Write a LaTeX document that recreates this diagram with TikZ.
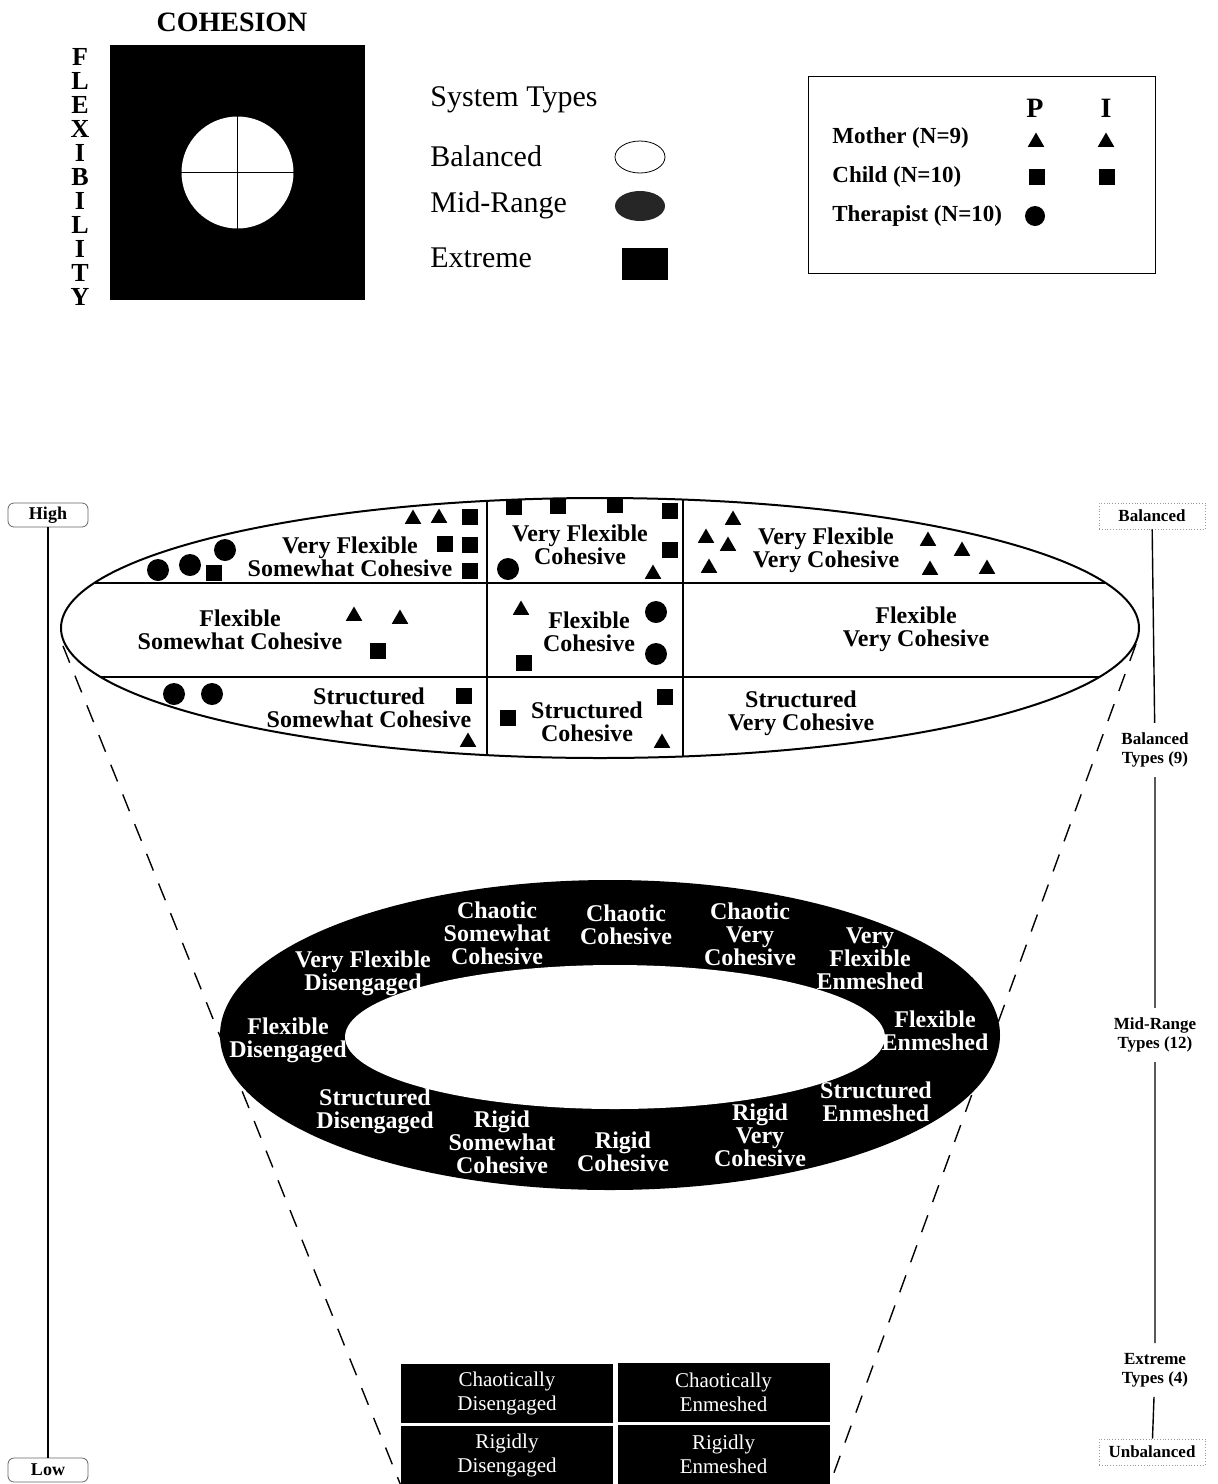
\documentclass[tikz,border=0pt]{standalone}
\usepackage{fontspec}
\setmainfont{Liberation Serif}
\usetikzlibrary{shapes.geometric}

\tikzset{
  hd/.style={font=\bfseries\fontsize{14}{14}\selectfont, inner sep=0pt},
  vlet/.style={font=\bfseries\fontsize{13}{13}\selectfont, inner sep=0pt, text height=8.5pt, text depth=0pt},
  leg/.style={font=\fontsize{15}{15}\selectfont, anchor=west, inner sep=0pt},
  key/.style={font=\bfseries\fontsize{11.5}{12}\selectfont, anchor=west, inner sep=0pt},
  cell/.style={font=\bfseries\fontsize{12}{11.5}\selectfont, align=center, inner sep=0pt},
  ring/.style={cell, text=white},
  xbox/.style={fill=black, text=white, minimum width=106pt, minimum height=29.5pt,
    align=center, inner sep=0pt, font=\fontsize{10.5}{12}\selectfont},
  axbox/.style={draw=black!60, rounded corners=3pt, minimum width=40pt, minimum height=12pt,
    font=\bfseries\fontsize{9}{9}\selectfont, inner sep=1pt},
  rbox/.style={draw=black!40, densely dotted, minimum width=53pt, minimum height=13pt,
    font=\bfseries\fontsize{8.5}{9}\selectfont, inner sep=1pt},
  rlbl/.style={font=\bfseries\fontsize{8.5}{9.5}\selectfont, align=center, inner sep=1pt, outer sep=4pt},
  tri/.style={regular polygon, regular polygon sides=3, fill=black, inner sep=0pt, minimum size=9.5pt},
  sqr/.style={rectangle, fill=black, inner sep=0pt, minimum size=8pt},
  dot/.style={circle, fill=black, inner sep=0pt, minimum size=11pt},
}

\begin{document}
\begin{tikzpicture}[x=0.5pt, y=-0.5pt]
\useasboundingbox (0,0) rectangle (1218,1484);

% cohesion / flexibility inset
\node[hd] (coh) at (232,22) {COHESION};
\node[fill=black, minimum width=127.5pt, minimum height=127.5pt, inner sep=0pt] (sq) at (237.5,172.5) {};
\node[circle, fill=white, minimum size=56pt, inner sep=0pt] (ctr) at (sq) {};
\draw[thick] (ctr.north) -- (ctr.south);
\draw[thick] (ctr.west) -- (ctr.east);
\foreach \ch [count=\i] in {F,L,E,X,I,B,I,L,I,T,Y}
  \node[vlet] (fx\i) at (80,{57+24*(\i-1)}) {\ch};

% system types
\node[leg] (st) at (430,100) {System Types};
\node[leg] (bl) at (430,156) {Balanced};
\node[leg] (mr) at (430,205) {Mid-Range};
\node[leg] (ex) at (430,258) {Extreme};
\node[draw, ellipse, minimum width=25pt, minimum height=16pt, inner sep=0pt] (blsym) at (640,157) {};
\node[ellipse, fill=black!85, minimum width=25pt, minimum height=15pt, inner sep=0pt] (mrsym) at (640,206) {};
\node[fill=black, minimum width=23pt, minimum height=16pt, inner sep=0pt] (exsym) at (645,264) {};

% raters
\node[draw, minimum width=173.5pt, minimum height=98.5pt] (keybox) at (981.5,174.5) {};
\node[hd] (colp) at (1035,108) {P};
\node[hd] (coli) at (1106,108) {I};
\node[key] (mo) at (832,138) {Mother (N=9)};
\node[key] (chd) at (832,177) {Child (N=10)};
\node[key] (th) at (832,216) {Therapist (N=10)};

% markers
\foreach \p [count=\i] in {(413,519),(439,518),(653,574),(733,520),(706,538),(728,546),(709,568),
    (928,541),(962,551),(930,570),(987,569),(354,616),(400,619),(521,610),(468,742),(662,743),
    (1036,142),(1106,142)}
  \node[tri] (t\i) at \p {};
\foreach \p [count=\i] in {(214,573),(470,517),(445,544),(470,545),(470,571),(514,507),(558,506),
    (615,505),(670,511),(670,550),(378,651),(524,663),(464,696),(508,718),(665,697),
    (1037,177),(1107,177)}
  \node[sqr] (s\i) at \p {};
\foreach \p [count=\i] in {(158,570),(190,565),(225,550),(508,569),(656,612),(656,654),(174,694),(212,694)}
  \node[dot] (c\i) at \p {};
\node[dot, minimum size=10pt] (c9) at (1035,216) {};

% balanced types
\node[draw, ellipse, line width=1pt, minimum width=539pt, minimum height=130pt, inner sep=0pt] (bal9) at (600,628) {};
\begin{scope}
  \clip (600,628) ellipse [x radius=539, y radius=130];
  \draw[line width=0.9pt] (0,583) -- (1218,583) (0,677) -- (1218,677)
    (487,0) -- (487,900) (683,0) -- (683,900);
\end{scope}
\node[cell] (vfsc) at (350,557) {Very Flexible\\Somewhat Cohesive};
\node[cell] (vfc) at (580,545) {Very Flexible\\Cohesive};
\node[cell] (vfvc) at (826,550) {Very Flexible\\Very Cohesive};
\node[cell] (fsc) at (240,630) {Flexible\\Somewhat Cohesive};
\node[cell] (fc) at (589,632) {Flexible\\Cohesive};
\node[cell] (fvc) at (916,629) {Flexible\\Very Cohesive};
\node[cell] (ssc) at (369,708) {Structured\\Somewhat Cohesive};
\node[cell] (sc) at (587,722) {Structured\\Cohesive};
\node[cell] (svc) at (801,713) {Structured\\Very Cohesive};

% extreme types
\node[xbox] (cd) at (507,1393) {Chaotically\\Disengaged};
\node[xbox] (ce) at (723.5,1392) {Chaotically\\Enmeshed};
\node[xbox] (rd) at (507,1455) {Rigidly\\Disengaged};
\node[xbox] (re) at (723.5,1454) {Rigidly\\Enmeshed};

\coordinate (lt) at (63,646);
\coordinate (rt) at (1136,644);
\draw[line width=0.7pt, dash pattern=on 9pt off 7pt] (lt) -- (rd.south west);
\draw[line width=0.7pt, dash pattern=on 9pt off 7pt] (rt) -- (re.south east);

% mid-range types
\node[ellipse, fill=black, minimum width=390pt, minimum height=155pt, inner sep=0pt] (mid) at (610,1035) {};
\node[ellipse, fill=white, minimum width=270pt, minimum height=72pt, inner sep=0pt] (hole) at (615,1037) {};
\node[ring] (csc) at (497,933) {Chaotic\\Somewhat\\Cohesive};
\node[ring] (cc) at (626,925) {Chaotic\\Cohesive};
\node[ring] (cvc) at (750,934) {Chaotic\\Very\\Cohesive};
\node[ring] (vfe) at (870,959) {Very\\Flexible\\Enmeshed};
\node[ring] (vfd) at (363,973) {Very Flexible\\Disengaged};
\node[ring] (fd) at (288,1040) {Flexible\\Disengaged};
\node[ring] (fe) at (935,1031) {Flexible\\Enmeshed};
\node[ring] (sd) at (375,1111) {Structured\\Disengaged};
\node[ring] (se) at (876,1102) {Structured\\Enmeshed};
\node[ring] (rsc) at (502,1142) {Rigid\\Somewhat\\Cohesive};
\node[ring] (rc) at (623,1152) {Rigid\\Cohesive};
\node[ring] (rvc) at (760,1135) {Rigid\\Very\\Cohesive};

% axes
\node[axbox] (high) at (48,515) {High};
\node[axbox] (low) at (48,1470) {Low};
\draw[line width=0.7pt] (high) -- (low);

\node[rbox] (bal) at (1152,516) {Balanced};
\node[rlbl] (btyp) at (1155,750) {Balanced\\Types (9)};
\node[rlbl] (mtyp) at (1155,1035) {Mid-Range\\Types (12)};
\node[rlbl] (etyp) at (1155,1370) {Extreme\\Types (4)};
\node[rbox] (unb) at (1152,1452) {Unbalanced};
\draw[line width=0.7pt] (bal) -- (btyp) (btyp) -- (mtyp) (mtyp) -- (etyp) (etyp) -- (unb);
\end{tikzpicture}
\end{document}
